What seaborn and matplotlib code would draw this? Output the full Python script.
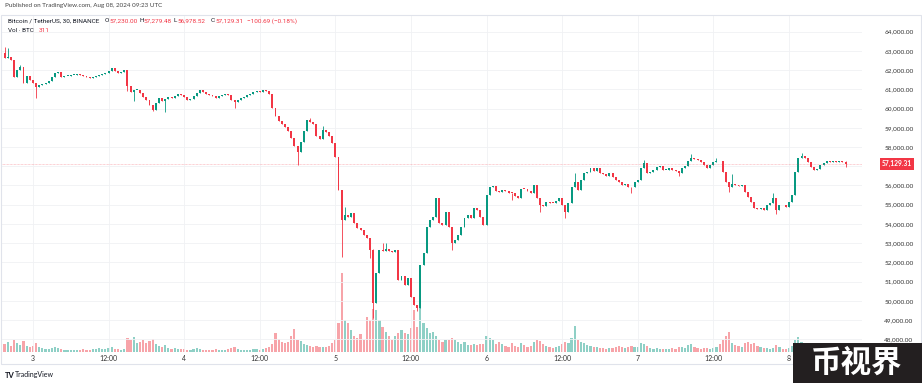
import matplotlib
matplotlib.use("Agg")
import matplotlib.pyplot as plt
import matplotlib.transforms as mtransforms
from matplotlib import font_manager
from matplotlib.patches import Rectangle
import pandas as pd
import seaborn as sns

# BTC/USDT 30 min candles, Aug 2 19:30 -> Aug 8 09:00
first_open = 62900
closes = [
    62620, 62680, 62530, 61640, 62000, 62160, 61330, 61700, 61490,
    # Aug 3
    61330, 61120, 61230, 61280, 61330, 61430, 61640, 61850, 61900, 61640,
    61690, 61700, 61750, 61760, 61800, 61750, 61690, 61640, 61590, 61640,
    61700, 61750, 61800, 61850, 61930, 62110, 61950, 61850, 61900, 62000,
    61180, 60860, 60970, 60970, 60810, 60620, 60450, 60190, 59930, 60290,
    60550, 60390, 60500, 60600, 60550, 60650, 60760, 60700,
    # Aug 4
    60600, 60450, 60500, 60650, 60810, 60970, 60860, 60760, 60700, 60650,
    60550, 60630, 60700, 60760, 60700, 60450, 60340, 60450, 60550, 60620,
    60700, 60760, 60860, 60920, 60860, 60970, 60910, 60760, 60030, 59610,
    59350, 59200, 59040, 58830, 58470, 58050, 57740, 58260, 58830, 59410,
    59300, 59200, 58570, 58410, 58880, 58780, 58570, 58210,
    # Aug 5
    57480, 55760, 54200, 54460, 54360, 54570, 54050, 53790, 53700, 53420,
    53270, 52640, 49880, 51440, 52640, 52590, 52680, 52600, 52560, 52640,
    51080, 51290, 50820, 51190, 50200, 49780, 49630, 51860, 52490, 53840,
    54200, 54360, 55350, 54050, 53940, 54620, 53840, 53000, 53160, 53420,
    53840, 54310, 54460, 54310, 54830, 54720, 54360, 53940,
    # Aug 6
    55500, 55920, 55950, 55710, 55660, 55760, 55710, 55610, 55600, 55450,
    55350, 55815, 55800, 55710, 55610, 56020, 55350, 54980, 54930, 55140,
    55090, 55080, 55190, 55350, 54980, 54620, 55090, 55920, 56180, 55760,
    56280, 56650, 56700, 56910, 56750, 56910, 56650, 56600, 56490, 56650,
    56440, 56280, 56180, 56020, 56050, 55920, 55900, 56180,
    # Aug 7
    56280, 56910, 57170, 56650, 56700, 56800, 56960, 57010, 56800, 56810,
    56910, 56800, 56750, 56650, 56910, 57010, 57270, 57430, 57380, 57320,
    57220, 57060, 56910, 57060, 57220, 57270, 57250, 56700, 56180, 55920,
    56080, 56030, 55970, 56020, 55660, 55400, 55140, 54830, 54780, 54830,
    54720, 54980, 55090, 55350, 54720, 54980, 54960, 54880,
    # Aug 8
    55140, 55500, 56700, 57430, 57530, 57430, 57220, 56960, 56800, 56850,
    57060, 57170, 57270, 57220, 57250, 57240, 57280, 57230, 57129.31,
]

volumes = [
    840, 1050, 630, 1260, 945, 735, 1155, 630, 525,
    630, 945, 525, 420, 315, 315, 420, 525, 420, 315,
    210, 210, 210, 210, 210, 210, 315, 210, 210, 315,
    315, 420, 315, 315, 420, 525, 315, 315, 210, 315,
    1470, 1260, 1575, 945, 1050, 1260, 945, 1155, 1365, 840,
    630, 525, 735, 420, 315, 420, 315, 315,
    315, 210, 210, 315, 420, 315, 210, 210, 210, 210,
    315, 210, 210, 210, 315, 420, 525, 315, 210, 210,
    210, 210, 315, 315, 210, 315, 420, 525, 840, 1995,
    1365, 1050, 945, 1050, 1680, 2415, 1260, 1155, 840, 735,
    630, 525, 630, 525, 525, 525, 630, 945,
    1260, 3045, 8295, 3360, 3045, 2310, 1680, 1470, 1890, 1260,
    3675, 3360, 4515, 4410, 3360, 2625, 2100, 1680, 1260, 1680,
    1995, 2310, 1995, 1890, 2520, 4410, 2625, 4620, 3045, 2520,
    1995, 2100, 1680, 1260, 1050, 1260, 1260, 1470, 1260, 1050,
    840, 1050, 735, 735, 840, 735, 840, 840,
    1680, 1470, 1260, 840, 1050, 840, 630, 525, 945, 630,
    525, 945, 735, 525, 630, 1050, 1260, 1155, 840, 630,
    525, 420, 525, 630, 840, 1050, 945, 1470, 2730, 1260,
    1050, 945, 735, 630, 525, 525, 420, 420, 315, 420,
    420, 525, 630, 525, 420, 525, 630, 525,
    525, 945, 840, 630, 420, 315, 420, 315, 315, 315,
    315, 420, 315, 525, 525, 420, 735, 840, 525, 420,
    315, 420, 420, 315, 420, 525, 840, 1260, 1680, 2100,
    945, 735, 630, 525, 945, 1050, 840, 945, 630, 525,
    420, 420, 315, 420, 735, 525, 315, 315,
    420, 630, 1260, 1575, 1050, 840, 735, 630, 525, 420,
    420, 315, 315, 315, 210, 315, 210, 315, 311,
]

# candles with a visible wick (index -> price)
wick_high = {0: 63200, 1: 63150, 5: 62260, 97: 59500, 101: 59090, 108: 54900,
             117: 52700, 120: 53000, 121: 53000, 181: 56650, 203: 57300,
             218: 57640, 226: 57430, 231: 56600, 244: 55600, 253: 57700,
             267: 57279.48}
wick_low = {10: 60550, 39: 60900, 41: 60400, 47: 59850, 51: 59830, 73: 60030,
            93: 57060, 107: 52280, 116: 52220, 117: 49100, 131: 49450,
            142: 52640, 161: 55250, 170: 54620, 178: 54300, 199: 55600,
            214: 56500, 230: 55650, 245: 54500, 267: 56978.52}

time_ticks = [9, 33, 57, 81, 105, 129, 153, 177, 201, 225, 249]
time_labels = ['3', '12:00', '4', '12:00', '5', '12:00', '6', '12:00', '7', '12:00', '8']
price_ticks = list(range(48000, 65000, 1000))

UP, DOWN = '#089981', '#f23645'

df = pd.DataFrame({'close': closes, 'volume': volumes})
df['i'] = range(len(df))
df['open'] = [first_open] + closes[:-1]
df['high'] = df[['open', 'close']].max(axis=1)
df['low'] = df[['open', 'close']].min(axis=1)
for k, v in wick_high.items():
    df.loc[k, 'high'] = v
for k, v in wick_low.items():
    df.loc[k, 'low'] = v
df['dir'] = ['up' if c >= o else 'down' for o, c in zip(df['open'], df['close'])]
df['color'] = df['dir'].map({'up': UP, 'down': DOWN})

sns.set_theme(style='white')
plt.rcParams['font.family'] = ['Lato', 'DejaVu Sans']
installed = {f.name for f in font_manager.fontManager.ttflist}
narrow = 'Liberation Sans Narrow' if 'Liberation Sans Narrow' in installed else 'Roboto'

W, H = 922, 383
fig = plt.figure(figsize=(W / 100, H / 100), dpi=100)
fig.patch.set_facecolor('white')
rect = [1 / W, 1 - 352 / H, 861 / W, 337 / H]

# volume pane underneath
ax_v = fig.add_axes(rect)
sns.barplot(data=df, x='i', y='volume', hue='dir',
            palette={'up': '#8fd0c6', 'down': '#f7a4a9'},
            native_scale=True, dodge=False, width=0.7, errorbar=None,
            saturation=1, legend=False, linewidth=0, ax=ax_v)
ax_v.set_ylim(0, df['volume'].max() * 337 / 79)
ax_v.set_xlabel('')
ax_v.set_ylabel('')
ax_v.tick_params(left=False, labelleft=False, bottom=False, labelbottom=False)
for s in ax_v.spines.values():
    s.set_visible(False)

# price pane on top
ax = fig.add_axes(rect, sharex=ax_v)
ax.patch.set_alpha(0)
ax.vlines(df['i'], df['low'], df['high'], colors=df['color'], lw=0.6)
body = (df['close'] - df['open']).abs().clip(lower=45)
ax.bar(df['i'], body, bottom=df[['open', 'close']].min(axis=1),
       width=0.62, color=df['color'], linewidth=0)

ax.set_xlim(-1.14, 272.2)
ax.set_ylim(47335, 64869)
ax.set_xticks(time_ticks, time_labels)
# 57,000 label is hidden behind the last-price tag in the original
ax.set_yticks(price_ticks, ['' if p == 57000 else f'{p:,.2f}' for p in price_ticks])
ax.yaxis.tick_right()
ax.tick_params(axis='x', length=0, pad=2, labelsize=5, labelcolor='#333333')
ax.tick_params(axis='y', length=0, pad=16, labelsize=4.6, labelcolor='#333333')
ax.grid(True, color='#f0f1f4', lw=0.6)
ax.set_axisbelow(True)
for s in ax.spines.values():
    s.set_visible(False)

# last price line + tag
last_close = closes[-1]
ax.axhline(last_close, color=DOWN, lw=0.5, alpha=0.45, ls=(0, (1, 1)))
trans = mtransforms.blended_transform_factory(ax.transAxes, ax.transData)
ax.text(1.0407, last_close, f'{last_close:,.2f}', transform=trans, ha='center', va='center',
        fontsize=4.8, color='white', fontweight='bold', clip_on=False,
        bbox=dict(boxstyle='square,pad=0.35', fc=DOWN, ec='none'))

# frame
fig.add_artist(Rectangle((1 / W, 1 - 364 / H), 920 / W, 349 / H, transform=fig.transFigure,
                         fill=False, ec='#e0e3eb', lw=0.8))


def ftext(x, y, s, **kw):
    fig.text(x / W, 1 - y / H, s, va='center', **kw)


ftext(5, 6, 'Published on TradingView.com, Aug 08, 2024 09:23 UTC', fontsize=4.5, color='#444444')
ftext(8, 21, 'Bitcoin / TetherUS, 30, BINANCE', fontsize=4.6, color='#131722', family=narrow)
ohlc = [(105, 'O', '57,230.00'), (139, 'H', '57,279.48'), (173, 'L', '56,978.52'), (211, 'C', '57,129.31')]
for x, k, v in ohlc:
    ftext(x, 21, k, fontsize=4.6, color='#131722', family=narrow)
    ftext(x + 4, 21, v, fontsize=4.6, color=DOWN, family=narrow)
ftext(247, 21, '\u2212100.69 (\u22120.18%)', fontsize=4.6, color=DOWN, family=narrow)
ftext(8, 30, 'Vol \u00b7 BTC', fontsize=4.6, color='#131722', family=narrow)
ftext(39, 30, '311', fontsize=4.6, color=DOWN, family=narrow)

# footer logo
ftext(5, 375, 'TV', fontsize=5.5, color='#131722', fontweight='bold')
ftext(15, 375, 'TradingView', fontsize=5, color='#131722')

# watermark
fig.add_artist(Rectangle((793 / W, 0), 129 / W, 40 / H, transform=fig.transFigure,
                         fc='#231f20', ec='none'))
fig.text(857 / W, 1 - 363 / H, '币视界', ha='center', va='center', fontsize=22,
         color='white', fontweight='heavy', family=['Noto Sans CJK SC', 'DejaVu Sans'])

fig.savefig('out.png', dpi=100)
